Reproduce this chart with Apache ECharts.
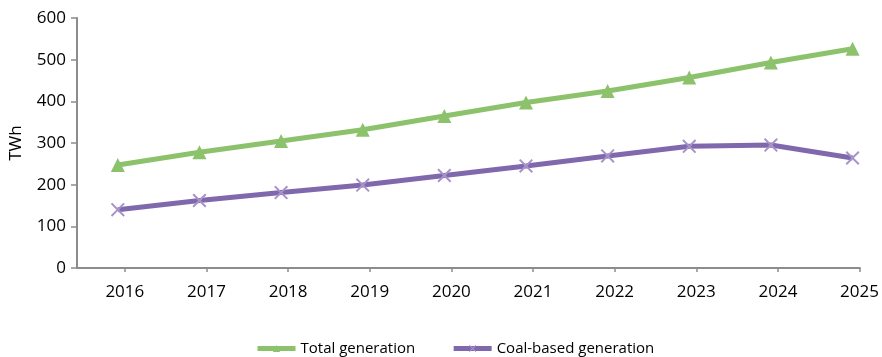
<!DOCTYPE html>
<html>
<head>
<meta charset="utf-8">
<script src="https://cdn.jsdelivr.net/npm/echarts@6/dist/echarts.min.js"></script>
<style>
  html, body { margin: 0; padding: 0; background: #fff; }
  #chart { width: 882px; height: 357px; }
</style>
</head>
<body>
<div id="chart"></div>
<script>
const years = [2016, 2017, 2018, 2019, 2020, 2021, 2022, 2023, 2024, 2025];
const totalGeneration = [247, 278, 305, 332, 365, 397, 425, 457, 493, 526];
const coalGeneration = [140, 162, 181, 199, 222, 245, 269, 292, 295, 264];

const GREEN = '#8dc26c';
const PURPLE = '#8068ad';
const AXIS = '#8c8c8c';
const FONT = '"Open Sans", "Noto Sans", sans-serif';

// X marker drawn as a filled polygon
const crossPath = 'path://M1,0 L5,4 L9,0 L10,1 L6,5 L10,9 L9,10 L5,6 L1,10 L0,9 L4,5 L0,1 Z';

const chart = echarts.init(document.getElementById('chart'));

chart.setOption({
  animation: false,
  textStyle: { fontFamily: FONT },
  grid: { left: 77, right: 22, top: 18, bottom: 89, containLabel: false },
  legend: {
    bottom: -4,
    left: 250,
    itemWidth: 38,
    itemHeight: 9,
    itemGap: 36,
    lineStyle: { width: 5 },
    textStyle: { fontSize: 15, color: '#000', fontFamily: FONT },
    data: ['Total generation', 'Coal-based generation'],
  },
  xAxis: [
    {
      // data axis
      type: 'value',
      min: 2015.5,
      max: 2025.09,
      axisLine: { show: true, onZero: false, lineStyle: { color: AXIS, width: 2 } },
      axisTick: { show: false },
      axisLabel: { show: false },
      splitLine: { show: false },
    },
    {
      // label axis, ticks sit a little right of the points
      type: 'value',
      position: 'bottom',
      min: 2015.414,
      max: 2025.004,
      axisLine: { show: false },
      axisTick: { show: true, length: 4, customValues: years, lineStyle: { color: AXIS, width: 1.5 } },
      axisLabel: {
        customValues: years,
        fontSize: 17,
        color: '#000',
        margin: 16,
        formatter: (v) => String(Math.round(v)),
      },
      splitLine: { show: false },
    },
  ],
  yAxis: {
    type: 'value',
    min: 0,
    max: 600,
    interval: 100,
    name: 'TWh',
    nameLocation: 'middle',
    nameGap: 52,
    nameRotate: 90,
    nameTextStyle: { fontSize: 17, color: '#000' },
    axisLine: { show: true, lineStyle: { color: AXIS, width: 2 } },
    axisTick: { show: true, inside: false, length: 6, lineStyle: { color: AXIS, width: 1.5 } },
    axisLabel: { fontSize: 17, color: '#000', margin: 11 },
    splitLine: { show: false },
  },
  series: [
    {
      name: 'Total generation',
      type: 'line',
      xAxisIndex: 0,
      data: years.map((y, i) => [y, totalGeneration[i]]),
      symbol: 'triangle',
      symbolSize: 14,
      lineStyle: { color: GREEN, width: 5 },
      itemStyle: { color: GREEN },
      color: GREEN,
    },
    {
      name: 'Coal-based generation',
      type: 'line',
      xAxisIndex: 0,
      data: years.map((y, i) => [y, coalGeneration[i]]),
      symbol: crossPath,
      symbolSize: 14,
      lineStyle: { color: PURPLE, width: 5 },
      itemStyle: { color: '#a793c9' },
      color: PURPLE,
    },
  ],
});
</script>
</body>
</html>
